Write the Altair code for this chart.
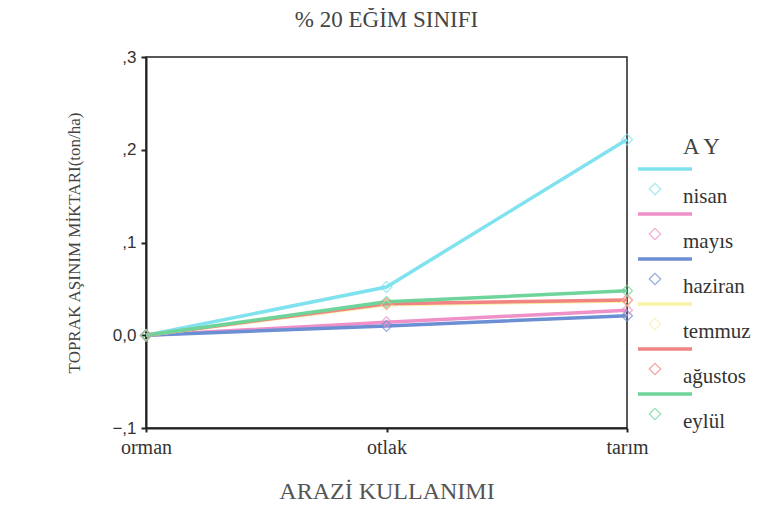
import altair as alt
import pandas as pd

land_use = ["orman", "otlak", "tarım"]
months = ["nisan", "mayıs", "haziran", "temmuz", "ağustos", "eylül"]
nisan = [0.0, 0.052, 0.211]
mayis = [0.0, 0.014, 0.027]
haziran = [0.0, 0.010, 0.021]
temmuz = [0.0, 0.033, 0.037]
agustos = [0.0, 0.034, 0.038]
eylul = [0.0, 0.036, 0.048]
colors = ["#80e2ef", "#ef90c8", "#6b8fd2", "#f8f1a8", "#f08482", "#6fd49a"]

series = [nisan, mayis, haziran, temmuz, agustos, eylul]
rows = []
for m, vals in zip(months, series):
    for lu, v in zip(land_use, vals):
        rows.append({"ARAZİ": lu, "AY": m, "değer": v, "sıra": months.index(m)})
df = pd.DataFrame(rows)
leg = pd.DataFrame({"AY": months, "i": list(range(len(months)))})

color = alt.Color("AY:N", scale=alt.Scale(domain=months, range=colors), legend=None)
serif = "Liberation Serif"

x = alt.X("ARAZİ:N", sort=land_use, scale=alt.Scale(type="point", padding=0),
          axis=alt.Axis(title="ARAZİ KULLANIMI", labelAngle=0, labelFont=serif,
                        labelFontSize=20, labelColor="#333", labelPadding=5,
                        titleFont=serif, titleFontSize=24, titleFontWeight="normal",
                        titleColor="#555", titlePadding=22, domainColor="#222",
                        domainWidth=2, tickColor="#222", tickSize=4, tickWidth=2,
                        grid=False))
y = alt.Y("değer:Q", scale=alt.Scale(domain=[-0.1, 0.3], nice=False, zero=False),
          axis=alt.Axis(title="TOPRAK AŞINIM MİKTARI(ton/ha)", values=[-0.1, 0, 0.1, 0.2, 0.3],
                        labelExpr="datum.value == 0 ? '0,0' : replace(format(datum.value, '.1f'), '0.', ',')",
                        labelFont="Liberation Sans", labelFontSize=17, labelColor="#333",
                        labelPadding=5, tickSize=5, tickWidth=2, tickColor="#222",
                        domainColor="#222", domainWidth=2, grid=False,
                        titleFont=serif, titleFontSize=17, titleFontWeight="normal",
                        titleColor="#444", titlePadding=28))

lines = alt.Chart(df).mark_line(strokeWidth=3.5).encode(x=x, y=y, color=color, order="sıra:Q",
                                                           detail="AY:N")
pts = alt.Chart(df).mark_point(shape="diamond", filled=False, size=120, strokeWidth=1.3).encode(
    x=x, y=y, color=color)
main = alt.layer(lines, pts)

ly = alt.Y("i:Q", scale=alt.Scale(domain=[0, 5], range=[112, 337]), axis=None)
leg_lines = alt.Chart(leg).mark_rule(strokeWidth=3.5).encode(
    x=alt.value(492), x2=alt.value(546), y=ly, color=color)
leg_pts = alt.Chart(leg).mark_point(shape="diamond", filled=False, size=130, strokeWidth=1.3,
                                    yOffset=20).encode(x=alt.value(509), y=ly, color=color)
leg_txt = alt.Chart(leg).mark_text(align="left", baseline="middle", font=serif, fontSize=21,
                                   color="#333", dy=28).encode(x=alt.value(537), y=ly, text="AY:N")
legend = alt.layer(leg_lines, leg_pts, leg_txt)
leg_title = alt.Chart(pd.DataFrame({"t": ["A Y"]})).mark_text(
    align="left", baseline="middle", font=serif, fontSize=23, color="#444").encode(
    x=alt.value(537), y=alt.value(90), text="t:N")

chart = alt.layer(main, legend, leg_title).resolve_scale(y="independent").properties(
    width=481, height=371,
    title=alt.TitleParams("% 20 EĞİM SINIFI", font=serif, fontSize=23, fontWeight="normal",
                          color="#444", offset=16, anchor="middle"),
    autosize="none",
    background="white",
    padding={"left": 138, "top": 49, "right": 148, "bottom": 85},
).configure_view(stroke="#222", strokeWidth=1.5)

chart.save("out.html", embed_options={"renderer": "svg", "actions": False})
